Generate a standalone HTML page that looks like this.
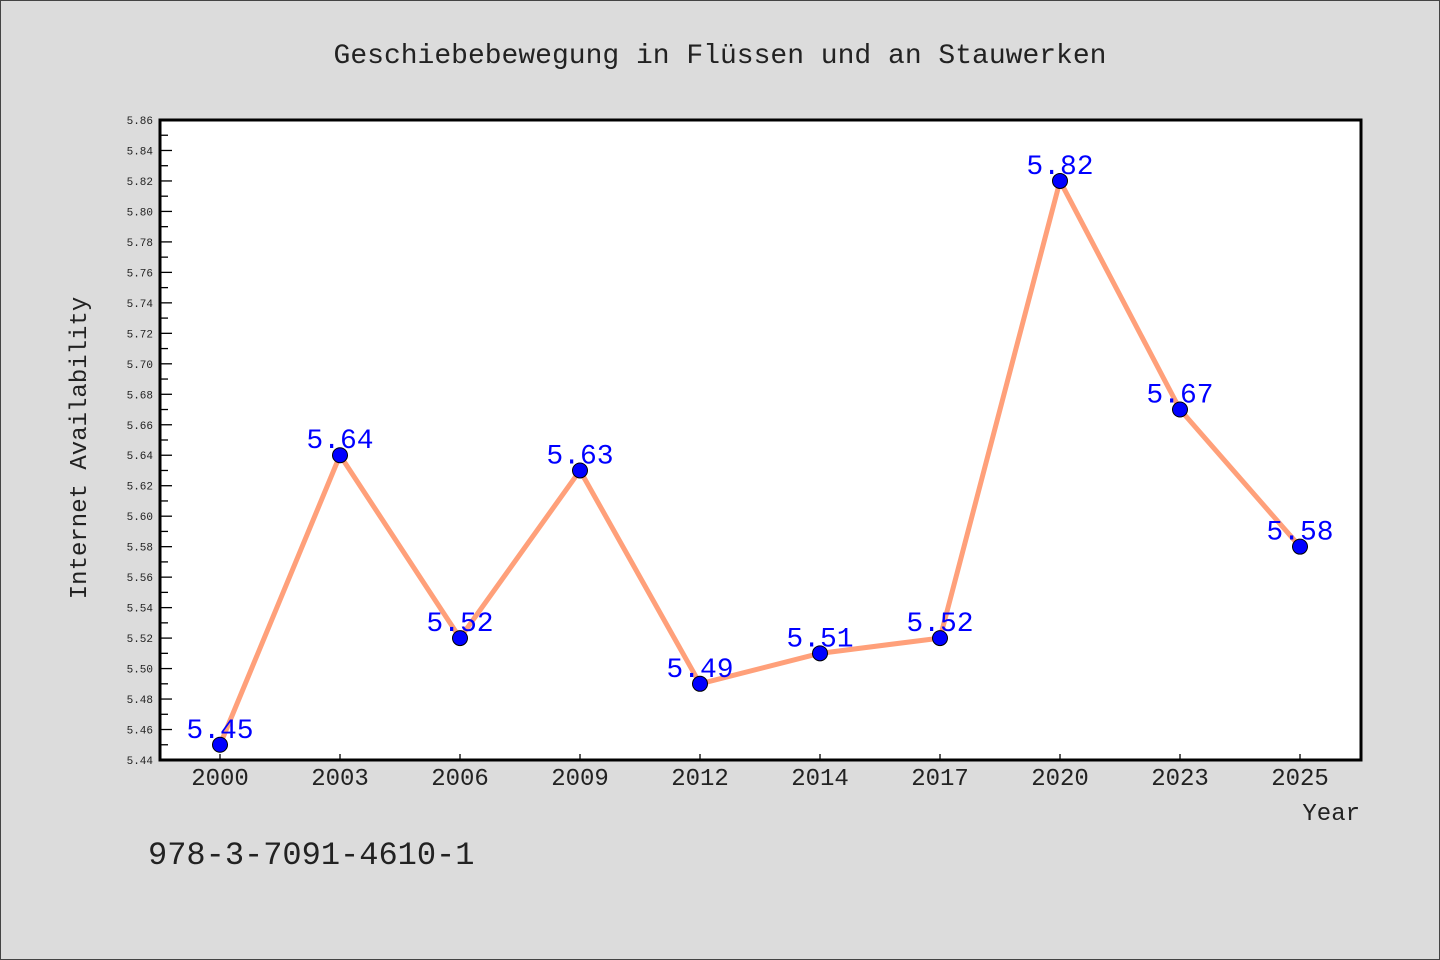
<!DOCTYPE html>
<html><head><meta charset="utf-8"><style>
body{margin:0;background:#dcdcdc;}
svg{display:block;font-family:"WenQuanYi Zen Hei","Liberation Mono",monospace;}
</style></head><body>
<svg width="1440" height="960">
<rect x="0.5" y="0.5" width="1439" height="959" fill="#dcdcdc" stroke="#444"/>
<text x="720" y="63" text-anchor="middle" font-size="28" fill="#222">Geschiebebewegung in Flüssen und an Stauwerken</text>
<rect x="160" y="120" width="1201" height="640" fill="#fff" stroke="#000" stroke-width="3"/>
<g id="yticks"></g><g id="xticks"></g><g id="series"></g>
<text transform="translate(86,448) rotate(-90)" text-anchor="middle" font-size="24" fill="#222">Internet Availability</text>
<text x="1360" y="820" text-anchor="end" font-size="24" fill="#222">Year</text>
<text x="148" y="864" font-size="32" fill="#222">978-3-7091-4610-1</text>
</svg>
<script>
const categories=["2000","2003","2006","2009","2012","2014","2017","2020","2023","2025"];
const values=[5.45,5.64,5.52,5.63,5.49,5.51,5.52,5.82,5.67,5.58];
const valueLabels=["5.45","5.64","5.52","5.63","5.49","5.51","5.52","5.82","5.67","5.58"];
const yMin=5.44,yMax=5.86;
const NS="http://www.w3.org/2000/svg";
const X0=160,X1=1361,Y0=760,Y1=120;
function xs(i){return 220+i*(1300-220)/(categories.length-1);}
function ys(v){return Y0-(v-yMin)/(yMax-yMin)*(Y0-Y1);}
function mk(tag,attrs,parent){const e=document.createElementNS(NS,tag);for(const k in attrs)e.setAttribute(k,attrs[k]);parent.appendChild(e);return e;}
const yt=document.getElementById('yticks');
const nSteps=Math.round((yMax-yMin)/0.01);
for(let k=0;k<=nSteps;k++){
  const v=yMin+k*0.01,y=ys(v),major=k%2===0;
  const l=mk('line',{x1:X0,x2:X0+(major?12:8),y1:y,y2:y,stroke:'#000','stroke-width':1.3},yt);
  
  
  if(major){
    const t=mk('text',{x:X0-7,y:y+4,'text-anchor':'end','font-size':11,fill:'#222'},yt);
    t.textContent=v.toFixed(2);
    
    
  }
}
const xt=document.getElementById('xticks');
categories.forEach((c,i)=>{
  const x=xs(i);
  const l=mk('line',{x1:x,x2:x,y1:Y0,y2:Y0-6,stroke:'#000','stroke-width':1.3},xt);
  
  
  const t=mk('text',{x:x,y:785,'text-anchor':'middle','font-size':24,fill:'#222'},xt);
  t.textContent=c;
  
  
});
const g=document.getElementById('series');
const pl=mk('polyline',{points:values.map((v,i)=>xs(i)+','+ys(v)).join(' '),fill:'none',stroke:'#ffa07a','stroke-width':5,'stroke-linejoin':'round'},g);


values.forEach((v,i)=>{
  const c=mk('circle',{cx:xs(i),cy:ys(v),r:7.5,fill:'#0000ff',stroke:'#000','stroke-width':1},g);
  
  
  const t=mk('text',{x:xs(i),y:ys(v)-7,'text-anchor':'middle','font-size':28,fill:'#0000ff'},g);
  t.textContent=valueLabels[i];
  
  
});
</script>
</body></html>
